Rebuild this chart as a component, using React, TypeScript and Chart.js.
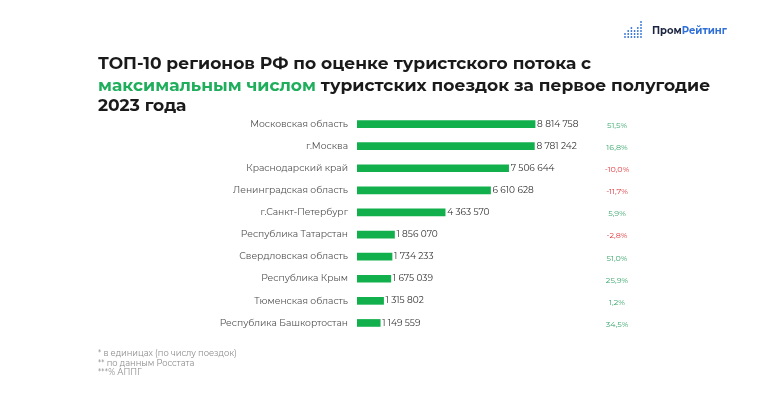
import React, { useEffect, useRef } from "react";
import { Chart, registerables } from "chart.js";

Chart.register(...registerables);

const regions = [
  "Московская область",
  "г.Москва",
  "Краснодарский край",
  "Ленинградская область",
  "г.Санкт-Петербург",
  "Республика Татарстан",
  "Свердловская область",
  "Республика Крым",
  "Тюменская область",
  "Республика Башкортостан",
];
const trips = [8814758, 8781242, 7506644, 6610628, 4363570, 1856070, 1734233, 1675039, 1315802, 1149559];
const growth = ["51,5%", "16,8%", "-10,0%", "-11,7%", "5,9%", "-2,8%", "51,0%", "25,9%", "1,2%", "34,5%"];
const titleLine1 = "ТОП-10 регионов РФ по оценке туристского потока с";
const titleLine2Green = "максимальным числом";
const titleLine2Rest = " туристских поездок за первое полугодие";
const titleLine3 = "2023 года";
const footnotes = ["* в единицах (по числу поездок)", "** по данным Росстата", "***% АППГ"];

const FONT = "Montserrat, 'Open Sans', 'Noto Sans', sans-serif";

function fmt(v: number) {
  return String(v).replace(/\B(?=(\d{3})+(?!\d))/g, " ");
}

const overlay = {
  id: "overlay",
  afterDraw(chart: any) {
    const ctx = chart.ctx;
    ctx.save();
    // title
    ctx.textBaseline = "middle";
    ctx.textAlign = "left";
    ctx.font = `bold 17.1px ${FONT}`;
    ctx.fillStyle = "#1a1a1a";
    ctx.fillText(titleLine1, 98, 64);
    ctx.fillStyle = "#1fae5b";
    ctx.fillText(titleLine2Green, 98, 86);
    const w = ctx.measureText(titleLine2Green).width;
    ctx.fillStyle = "#1a1a1a";
    ctx.fillText(titleLine2Rest, 98 + w, 86);
    ctx.fillText(titleLine3, 98, 106);

    // logo
    const cols = [2, 3, 4, 3, 4, 6];
    ctx.fillStyle = "#2f6fd6";
    for (let c = 0; c < cols.length; c++) {
      for (let r = 0; r < cols[c]; r++) {
        ctx.beginPath();
        ctx.arc(625 + c * 3.2, 37 - r * 3, 0.9, 0, Math.PI * 2);
        ctx.fill();
      }
    }
    ctx.font = `bold 10px ${FONT}`;
    ctx.fillStyle = "#1c2440";
    ctx.fillText("Пром", 652, 31);
    const pw = ctx.measureText("Пром").width;
    ctx.fillStyle = "#2f6fd6";
    ctx.fillText("Рейтинг", 652 + pw, 31);

    // value labels and growth
    const meta = chart.getDatasetMeta(0);
    meta.data.forEach((bar: any, i: number) => {
      ctx.font = `9px ${FONT}`;
      ctx.fillStyle = "#333333";
      ctx.textAlign = "left";
      ctx.fillText(fmt(trips[i]), bar.x + 2, bar.y);
      ctx.font = `8px ${FONT}`;
      ctx.textAlign = "center";
      ctx.fillStyle = growth[i].startsWith("-") ? "#e0393e" : "#3aa76d";
      ctx.fillText(growth[i], 617, bar.y + 1.5);
    });

    // footnotes
    ctx.textAlign = "left";
    ctx.font = `8.3px ${FONT}`;
    ctx.fillStyle = "#8a8a8a";
    footnotes.forEach((t, i) => ctx.fillText(t, 98, 354 + i * 9.5));
    ctx.restore();
  },
};

export default function App() {
  const ref = useRef<HTMLCanvasElement>(null);
  useEffect(() => {
    document.body.style.margin = "0";
    const chart = new Chart(ref.current!, {
      type: "bar",
      data: {
        labels: regions,
        datasets: [
          {
            data: trips,
            backgroundColor: "#12b04c",
            barThickness: 7,
          },
        ],
      },
      options: {
        indexAxis: "y",
        animation: false,
        responsive: false,
        layout: { padding: { top: 113, bottom: 83, right: 113, left: 0 } },
        plugins: { legend: { display: false }, tooltip: { enabled: false } },
        scales: {
          x: {
            min: 0,
            max: 15000000,
            display: false,
          },
          y: {
            grid: { display: false, drawTicks: false },
            border: { display: false },
            ticks: {
              color: "#505050",
              font: { family: FONT, size: 9.2 },
              padding: 9,
            },
            afterFit(scale: any) {
              scale.width = 357;
            },
          },
        },
      },
      plugins: [overlay],
    });
    return () => chart.destroy();
  }, []);
  return (
    <div style={{ position: "fixed", left: 0, top: 0, width: 773, height: 417, background: "#fff" }}>
      <canvas ref={ref} width={773} height={417} />
    </div>
  );
}
